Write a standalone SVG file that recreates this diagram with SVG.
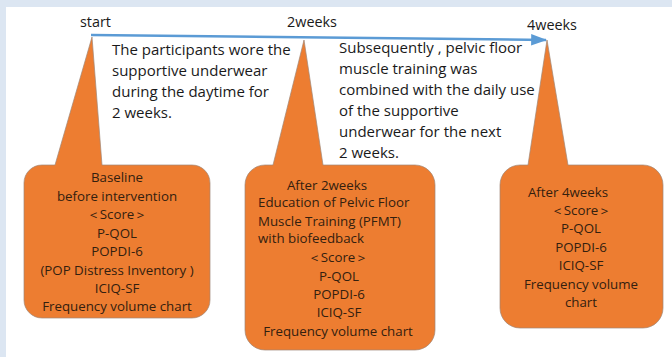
<svg xmlns="http://www.w3.org/2000/svg" width="672" height="357" viewBox="0 0 672 357">
<defs>
<marker id="arr" viewBox="0 0 14 10" refX="13" refY="5" markerWidth="6.4" markerHeight="4.6" orient="auto" markerUnits="strokeWidth">
<path d="M0,0 L14,5 L0,10 Z" fill="#5b9bd5"/>
</marker>
</defs>
<style>
.bg{fill:#dce6f2}
.call{fill:#ed7d31;stroke:#a08878;stroke-width:1;stroke-opacity:0.7}
.lbl{font-family:"Open Sans","Liberation Sans",sans-serif;font-size:14.4px;fill:#1a1a1a}
.desc{font-family:"Open Sans","Liberation Sans",sans-serif;font-size:15px;fill:#1a1a1a}
.bx{font-family:"Open Sans","Liberation Sans",sans-serif;font-size:13.3px;fill:#33200f}
.c{text-anchor:middle}
</style>
<rect x="0" y="0" width="672" height="357" fill="#ffffff"/>
<rect class="bg" x="0" y="0" width="672" height="7"/>
<rect class="bg" x="0" y="0" width="6" height="357"/>

<g id="connectors">
<line x1="91" y1="35" x2="546" y2="40" stroke="#5b9bd5" stroke-width="2.5" marker-end="url(#arr)"/>
</g>

<g id="label-start"><text class="lbl" x="80" y="27">start</text></g>
<g id="label-2weeks"><text class="lbl" x="287" y="27">2weeks</text></g>
<g id="label-4weeks"><text class="lbl" x="527" y="30">4weeks</text></g>

<g id="desc1">
<text class="desc" x="112" y="55">The participants wore the</text>
<text class="desc" x="112" y="76">supportive underwear</text>
<text class="desc" x="112" y="97">during the daytime for</text>
<text class="desc" x="112" y="118">2 weeks.</text>
</g>
<g id="desc2">
<text class="desc" x="339" y="53">Subsequently , pelvic floor</text>
<text class="desc" x="339" y="74">muscle training was</text>
<text class="desc" x="339" y="95">combined with the daily use</text>
<text class="desc" x="339" y="116">of the supportive</text>
<text class="desc" x="339" y="137">underwear for the next</text>
<text class="desc" x="339" y="158">2 weeks.</text>
</g>

<g id="node-baseline">
<path class="call" d="M42,165 L55,165 L92,37 L102,165 L192,165 A18,18 0 0 1 210,183 L210,300 A18,18 0 0 1 192,318 L42,318 A18,18 0 0 1 24,300 L24,183 A18,18 0 0 1 42,165 Z"/>
<text class="bx c" x="117" y="182">Baseline</text>
<text class="bx c" x="117" y="201">before intervention</text>
<text class="bx c" x="117" y="219">＜Score＞</text>
<text class="bx c" x="117" y="238">P-QOL</text>
<text class="bx c" x="117" y="256">POPDI-6</text>
<text class="bx c" x="117" y="275">(POP Distress Inventory )</text>
<text class="bx c" x="117" y="293">ICIQ-SF</text>
<text class="bx c" x="117" y="311">Frequency volume chart</text>
</g>

<g id="node-2weeks">
<path class="call" d="M265,165 L273,165 L304,40 L323,165 L415,165 A20,20 0 0 1 435,185 L435,330 A20,20 0 0 1 415,350 L265,350 A20,20 0 0 1 245,330 L245,185 A20,20 0 0 1 265,165 Z"/>
<text class="bx c" x="327" y="190">After 2weeks</text>
<text class="bx" x="258" y="207">Education of Pelvic Floor</text>
<text class="bx" x="258" y="226">Muscle Training (PFMT)</text>
<text class="bx" x="258" y="243">with biofeedback</text>
<text class="bx c" x="338" y="262">＜Score＞</text>
<text class="bx c" x="339" y="281">P-QOL</text>
<text class="bx c" x="339" y="299">POPDI-6</text>
<text class="bx c" x="339" y="317">ICIQ-SF</text>
<text class="bx c" x="338" y="336">Frequency volume chart</text>
</g>

<g id="node-4weeks">
<path class="call" d="M520,165 L528,165 L547,40 L568,165 L643,165 A20,20 0 0 1 663,185 L663,308 A20,20 0 0 1 643,328 L520,328 A20,20 0 0 1 500,308 L500,185 A20,20 0 0 1 520,165 Z"/>
<text class="bx c" x="568" y="197">After 4weeks</text>
<text class="bx c" x="581" y="215">＜Score＞</text>
<text class="bx c" x="581" y="233">P-QOL</text>
<text class="bx c" x="581" y="252">POPDI-6</text>
<text class="bx c" x="581" y="270">ICIQ-SF</text>
<text class="bx c" x="581" y="289">Frequency volume</text>
<text class="bx c" x="581" y="307">chart</text>
</g>
</svg>
